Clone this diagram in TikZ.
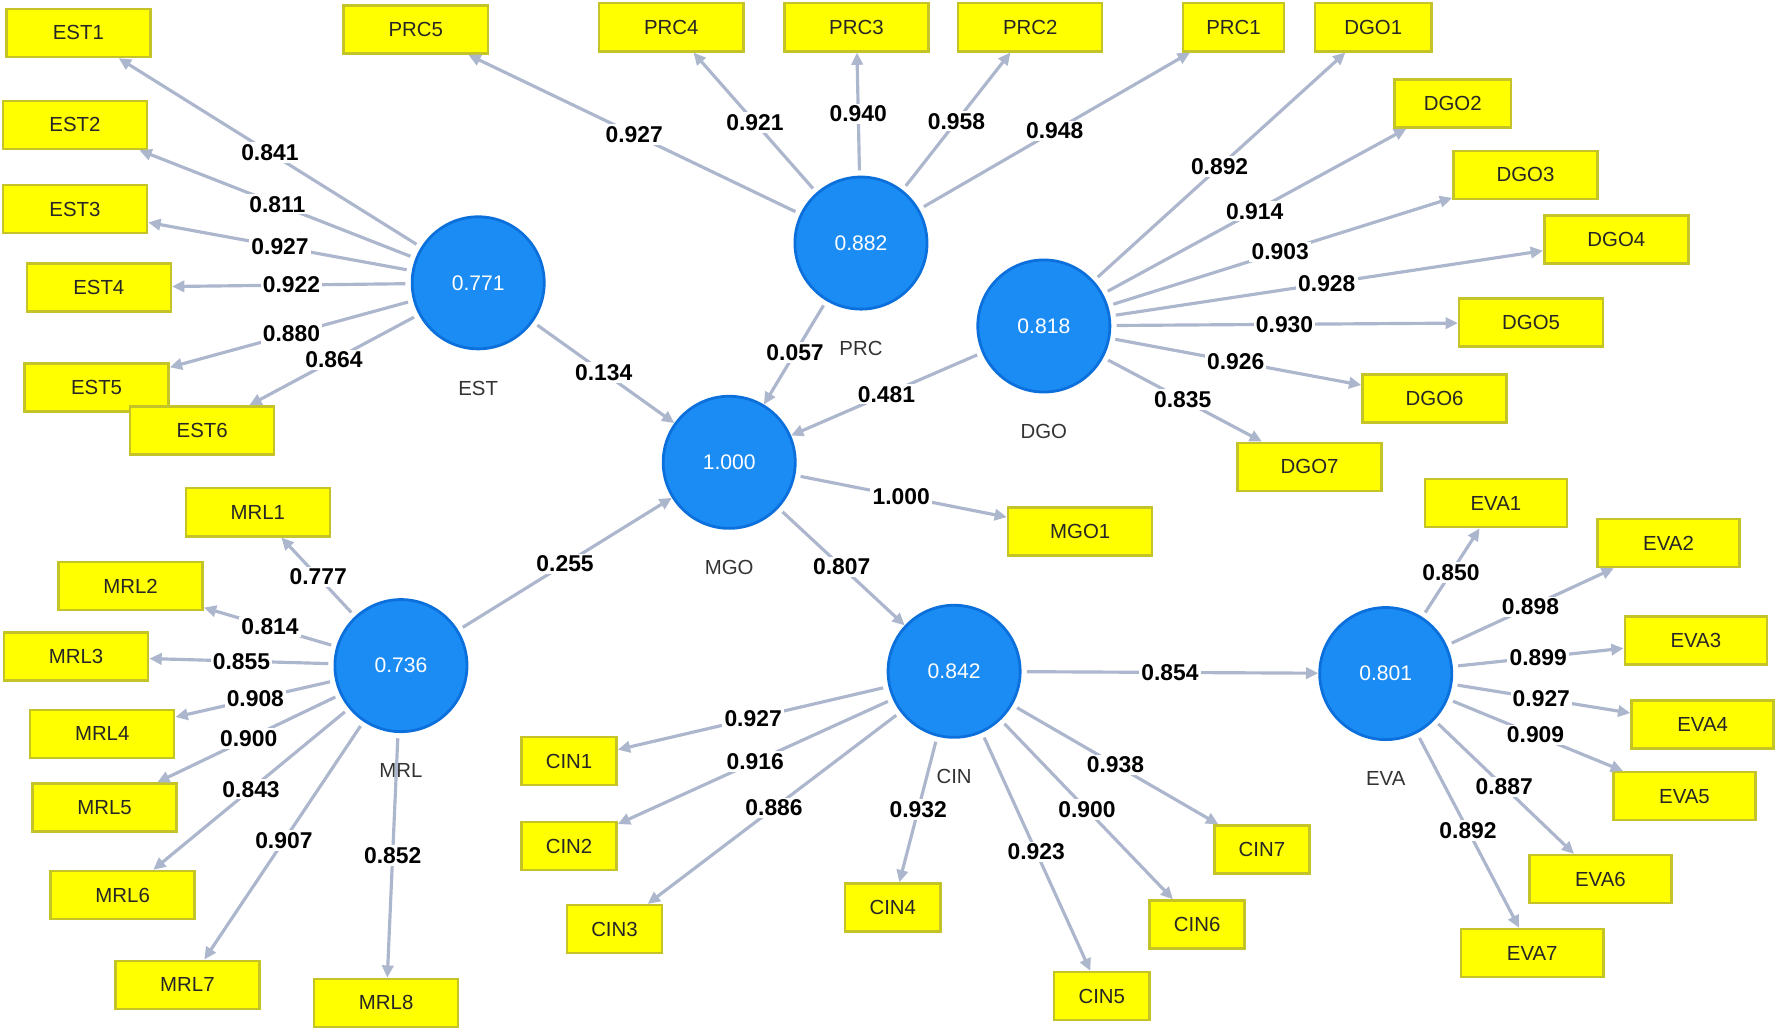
\documentclass[tikz,border=0pt]{standalone}
\usepackage{fontspec}
\setmainfont{Liberation Sans}
\usetikzlibrary{arrows.meta}
\definecolor{lvblue}{RGB}{28,140,245}
\definecolor{lvrim}{RGB}{12,112,220}
\definecolor{mvyellow}{RGB}{255,255,0}
\definecolor{mvrim}{RGB}{196,196,40}
\definecolor{pathgray}{RGB}{172,182,205}
\tikzset{
  lv/.style={circle,fill=lvblue,draw=lvrim,line width=0.8pt,minimum size=1.32cm,inner sep=0pt,
    text=white,font=\fontsize{6}{7}\selectfont},
  lvname/.style={font=\fontsize{5.8}{7}\selectfont,text=black!80,inner sep=0pt,label distance=0.3cm},
  mv/.style={rectangle,fill=mvyellow,draw=mvrim,line width=0.7pt,minimum width=1.44cm,
    minimum height=0.48cm,inner sep=0pt,text=black!85,font=\fontsize{5.8}{7}\selectfont},
  ld/.style={draw=pathgray,line width=0.9pt,-{Triangle[length=3.5pt,width=3.2pt]},shorten <=1.5pt},
  wt/.style={midway,fill=white,inner sep=0.6pt,font=\bfseries\fontsize{6.5}{7}\selectfont}
}
\begin{document}
\begin{tikzpicture}[x=0.01136cm,y=-0.01136cm]
\useasboundingbox (0,0) rectangle (1568,908);
% latent variables
\node[lv,label={[lvname]below:EST}] (EST) at (421,249) {0.771};
\node[lv,label={[lvname]below:PRC}] (PRC) at (758,214) {0.882};
\node[lv,label={[lvname]below:DGO}] (DGO) at (919,287) {0.818};
\node[lv,label={[lvname]below:MGO}] (MGO) at (642,407) {1.000};
\node[lv,label={[lvname]below:MRL}] (MRL) at (353,586) {0.736};
\node[lv,label={[lvname]below:CIN}] (CIN) at (840,591) {0.842};
\node[lv,label={[lvname]below:EVA}] (EVA) at (1220,593) {0.801};
% indicators
\node[mv] (EST1) at (69,29) {EST1};
\node[mv] (EST2) at (66,110) {EST2};
\node[mv] (EST3) at (66,184) {EST3};
\node[mv] (EST4) at (87,253) {EST4};
\node[mv] (EST5) at (85,341) {EST5};
\node[mv] (EST6) at (178,379) {EST6};
\node[mv] (PRC5) at (366,26) {PRC5};
\node[mv] (PRC4) at (591,24) {PRC4};
\node[mv] (PRC3) at (754,24) {PRC3};
\node[mv] (PRC2) at (907,24) {PRC2};
\node[mv,minimum width=1.01cm] (PRC1) at (1086,24) {PRC1};
\node[mv,minimum width=1.16cm] (DGO1) at (1209,24) {DGO1};
\node[mv,minimum width=1.16cm] (DGO2) at (1279,91) {DGO2};
\node[mv] (DGO3) at (1343,154) {DGO3};
\node[mv] (DGO4) at (1423,211) {DGO4};
\node[mv] (DGO5) at (1348,284) {DGO5};
\node[mv] (DGO6) at (1263,351) {DGO6};
\node[mv] (DGO7) at (1153,411) {DGO7};
\node[mv] (MGO1) at (951,468) {MGO1};
\node[mv] (MRL1) at (227,451) {MRL1};
\node[mv] (MRL2) at (115,516) {MRL2};
\node[mv] (MRL3) at (67,578) {MRL3};
\node[mv] (MRL4) at (90,646) {MRL4};
\node[mv] (MRL5) at (92,711) {MRL5};
\node[mv] (MRL6) at (108,788) {MRL6};
\node[mv] (MRL7) at (165,867) {MRL7};
\node[mv] (MRL8) at (340,883) {MRL8};
\node[mv,minimum width=0.95cm] (CIN1) at (501,670) {CIN1};
\node[mv,minimum width=0.95cm] (CIN2) at (501,745) {CIN2};
\node[mv,minimum width=0.95cm] (CIN3) at (541,818) {CIN3};
\node[mv,minimum width=0.95cm] (CIN4) at (786,799) {CIN4};
\node[mv,minimum width=0.95cm] (CIN5) at (970,877) {CIN5};
\node[mv,minimum width=0.95cm] (CIN6) at (1054,814) {CIN6};
\node[mv,minimum width=0.95cm] (CIN7) at (1111,748) {CIN7};
\node[mv,minimum width=1.42cm] (EVA1) at (1317,443) {EVA1};
\node[mv,minimum width=1.42cm] (EVA2) at (1469,478) {EVA2};
\node[mv,minimum width=1.42cm] (EVA3) at (1493,564) {EVA3};
\node[mv,minimum width=1.42cm] (EVA4) at (1499,638) {EVA4};
\node[mv,minimum width=1.42cm] (EVA5) at (1483,701) {EVA5};
\node[mv,minimum width=1.42cm] (EVA6) at (1409,774) {EVA6};
\node[mv,minimum width=1.42cm] (EVA7) at (1349,839) {EVA7};
% inner model
\draw[ld] (EST) -- (MGO) node[wt] {0.134};
\draw[ld] (PRC) -- (MGO) node[wt] {0.057};
\draw[ld] (DGO) -- (MGO) node[wt] {0.481};
\draw[ld] (MRL) -- (MGO) node[wt] {0.255};
\draw[ld] (MGO) -- (CIN) node[wt] {0.807};
\draw[ld] (CIN) -- (EVA) node[wt] {0.854};
% outer model
\draw[ld] (MGO) -- (MGO1) node[wt] {1.000};
\draw[ld] (EST) -- (EST1) node[wt] {0.841};
\draw[ld] (EST) -- (EST2) node[wt] {0.811};
\draw[ld] (EST) -- (EST3) node[wt] {0.927};
\draw[ld] (EST) -- (EST4) node[wt] {0.922};
\draw[ld] (EST) -- (EST5) node[wt] {0.880};
\draw[ld] (EST) -- (EST6) node[wt] {0.864};
\draw[ld] (PRC) -- (PRC5) node[wt] {0.927};
\draw[ld] (PRC) -- (PRC4) node[wt] {0.921};
\draw[ld] (PRC) -- (PRC3) node[wt] {0.940};
\draw[ld] (PRC) -- (PRC2) node[wt] {0.958};
\draw[ld] (PRC) -- (PRC1) node[wt] {0.948};
\draw[ld] (DGO) -- (DGO1) node[wt] {0.892};
\draw[ld] (DGO) -- (DGO2) node[wt] {0.914};
\draw[ld] (DGO) -- (DGO3) node[wt] {0.903};
\draw[ld] (DGO) -- (DGO4) node[wt] {0.928};
\draw[ld] (DGO) -- (DGO5) node[wt] {0.930};
\draw[ld] (DGO) -- (DGO6) node[wt] {0.926};
\draw[ld] (DGO) -- (DGO7) node[wt] {0.835};
\draw[ld] (MRL) -- (MRL1) node[wt] {0.777};
\draw[ld] (MRL) -- (MRL2) node[wt] {0.814};
\draw[ld] (MRL) -- (MRL3) node[wt] {0.855};
\draw[ld] (MRL) -- (MRL4) node[wt] {0.908};
\draw[ld] (MRL) -- (MRL5) node[wt] {0.900};
\draw[ld] (MRL) -- (MRL6) node[wt] {0.843};
\draw[ld] (MRL) -- (MRL7) node[wt] {0.907};
\draw[ld] (MRL) -- (MRL8) node[wt] {0.852};
\draw[ld] (CIN) -- (CIN1) node[wt] {0.927};
\draw[ld] (CIN) -- (CIN2) node[wt] {0.916};
\draw[ld] (CIN) -- (CIN3) node[wt] {0.886};
\draw[ld] (CIN) -- (CIN4) node[wt] {0.932};
\draw[ld] (CIN) -- (CIN5) node[wt] {0.923};
\draw[ld] (CIN) -- (CIN6) node[wt] {0.900};
\draw[ld] (CIN) -- (CIN7) node[wt] {0.938};
\draw[ld] (EVA) -- (EVA1) node[wt] {0.850};
\draw[ld] (EVA) -- (EVA2) node[wt] {0.898};
\draw[ld] (EVA) -- (EVA3) node[wt] {0.899};
\draw[ld] (EVA) -- (EVA4) node[wt] {0.927};
\draw[ld] (EVA) -- (EVA5) node[wt] {0.909};
\draw[ld] (EVA) -- (EVA6) node[wt] {0.887};
\draw[ld] (EVA) -- (EVA7) node[wt] {0.892};
\end{tikzpicture}
\end{document}
